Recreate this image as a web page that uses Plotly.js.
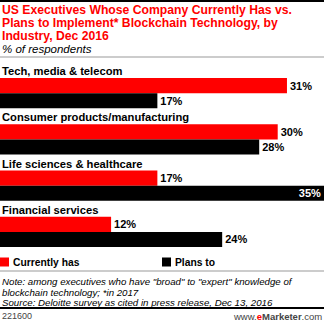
<!DOCTYPE html>
<html>
<head>
<meta charset="utf-8">
<script src="https://cdn.plot.ly/plotly-3.0.1.min.js"></script>
<style>html,body{margin:0;padding:0;background:#fff;}#chart{width:324px;height:321px;}</style>
</head>
<body>
<div id="chart"></div>
<script>
var categories = ["Tech, media & telecom", "Consumer products/manufacturing", "Life sciences & healthcare", "Financial services"];
var currentlyHas = [31, 30, 17, 12];
var plansTo = [17, 28, 35, 24];
var seriesNames = ["Currently has", "Plans to"];
var titleLines = ["US Executives Whose Company Currently Has vs.", "Plans to Implement* Blockchain Technology, by", "Industry, Dec 2016"];
var subtitle = "% of respondents";
var noteLines = ["Note: among executives who have \"broad\" to \"expert\" knowledge of", "blockchain technology; *in 2017", "Source: Deloitte survey as cited in press release, Dec 13, 2016"];
var chartId = "221600";

var W = 324, H = 321, T = 70, PH = 185;
function py(p) { return (T + PH - p) / PH; }
function px(p) { return p / W; }
var FONT = "Liberation Sans, Arial, sans-serif";
var RED = "#ff0000", BLACK = "#000000";
var maxVal = 35;

function positions(vals) {
  return vals.map(function (v) { return v >= maxVal ? "inside" : "outside"; });
}

var traces = [
  {type: "bar", orientation: "h", name: seriesNames[0], y: categories, x: currentlyHas,
   marker: {color: RED, line: {width: 0}}, texttemplate: "%{x}%", textposition: positions(currentlyHas),
   insidetextanchor: "end", constraintext: "none", cliponaxis: false,
   outsidetextfont: {family: FONT, size: 11, color: "#000", weight: "bold"},
   insidetextfont: {family: FONT, size: 11, color: "#fff", weight: "bold"}, hoverinfo: "skip"},
  {type: "bar", orientation: "h", name: seriesNames[1], y: categories, x: plansTo,
   marker: {color: BLACK, line: {width: 0}}, texttemplate: "%{x}%", textposition: positions(plansTo),
   insidetextanchor: "end", constraintext: "none", cliponaxis: false,
   outsidetextfont: {family: FONT, size: 11, color: "#000", weight: "bold"},
   insidetextfont: {family: FONT, size: 11, color: "#fff", weight: "bold"}, hoverinfo: "skip"}
];

var annotations = [];
titleLines.forEach(function (t, i) {
  annotations.push({xref: "paper", yref: "paper", x: 0, y: py(10 + i * 13), xanchor: "left", yanchor: "middle",
    text: t, showarrow: false, font: {family: FONT, size: 12.2, color: RED, weight: "bold"}});
});
annotations.push({xref: "paper", yref: "paper", x: 0, y: py(49), xanchor: "left", yanchor: "middle",
  text: "<i>" + subtitle + "</i>", showarrow: false, font: {family: FONT, size: 11.5, color: "#000"}});
categories.forEach(function (c) {
  annotations.push({xref: "paper", yref: "y", x: 0, y: c, yshift: 22, xanchor: "left", yanchor: "middle",
    text: c, showarrow: false, font: {family: FONT, size: 11.2, color: "#000", weight: "bold"}});
});
// legend
var legendX = [0, 162];
var shapes = [];
[RED, BLACK].forEach(function (col, i) {
  shapes.push({type: "rect", xref: "paper", yref: "paper", x0: px(legendX[i]), x1: px(legendX[i] + 9),
    y0: py(266.5), y1: py(257.5), fillcolor: col, line: {width: 0}});
  annotations.push({xref: "paper", yref: "paper", x: px(legendX[i] + 11), y: py(262), xanchor: "left", yanchor: "middle",
    text: seriesNames[i], showarrow: false, font: {family: FONT, size: 10.3, color: "#000", weight: "bold"}});
});
noteLines.forEach(function (t, i) {
  annotations.push({xref: "paper", yref: "paper", x: 0, y: py(281.5 + i * 10.5), xanchor: "left", yanchor: "middle",
    text: "<i>" + t + "</i>", showarrow: false, font: {family: FONT, size: 9.7, color: "#000"}});
});
annotations.push({xref: "paper", yref: "paper", x: 0, y: py(316), xanchor: "left", yanchor: "middle",
  text: chartId, showarrow: false, font: {family: FONT, size: 9, color: "#444"}});
annotations.push({xref: "paper", yref: "paper", x: 1, y: py(316), xanchor: "right", yanchor: "middle",
  text: "www.<span style='color:#ff0000'><b>e</b></span><b>Marketer</b>.com", showarrow: false,
  font: {family: FONT, size: 9.5, color: "#444"}});

shapes.push({type: "line", xref: "paper", yref: "paper", x0: 0, x1: 1, y0: py(1), y1: py(1), line: {color: "#000", width: 2}});
shapes.push({type: "line", xref: "paper", yref: "paper", x0: 0, x1: 1, y0: py(57), y1: py(57), line: {color: "#999", width: 1}});
shapes.push({type: "line", xref: "paper", yref: "paper", x0: 0, x1: 1, y0: py(271), y1: py(271), line: {color: "#999", width: 1}});
shapes.push({type: "line", xref: "paper", yref: "paper", x0: 0, x1: 1, y0: py(308), y1: py(308), line: {color: "#000", width: 2}});

var layout = {
  width: W, height: H, margin: {l: 0, r: 0, t: T, b: H - T - PH, pad: 0},
  paper_bgcolor: "#fff", plot_bgcolor: "#fff", showlegend: false,
  barmode: "group", bargap: 0.35, bargroupgap: 0,
  xaxis: {range: [0, maxVal], visible: false, fixedrange: true},
  yaxis: {type: "category", range: [categories.length - 0.5, -0.5], autorange: false, visible: false, fixedrange: true},
  annotations: annotations, shapes: shapes, font: {family: FONT}
};
Plotly.newPlot("chart", traces, layout, {staticPlot: true, displayModeBar: false});
</script>
</body>
</html>
